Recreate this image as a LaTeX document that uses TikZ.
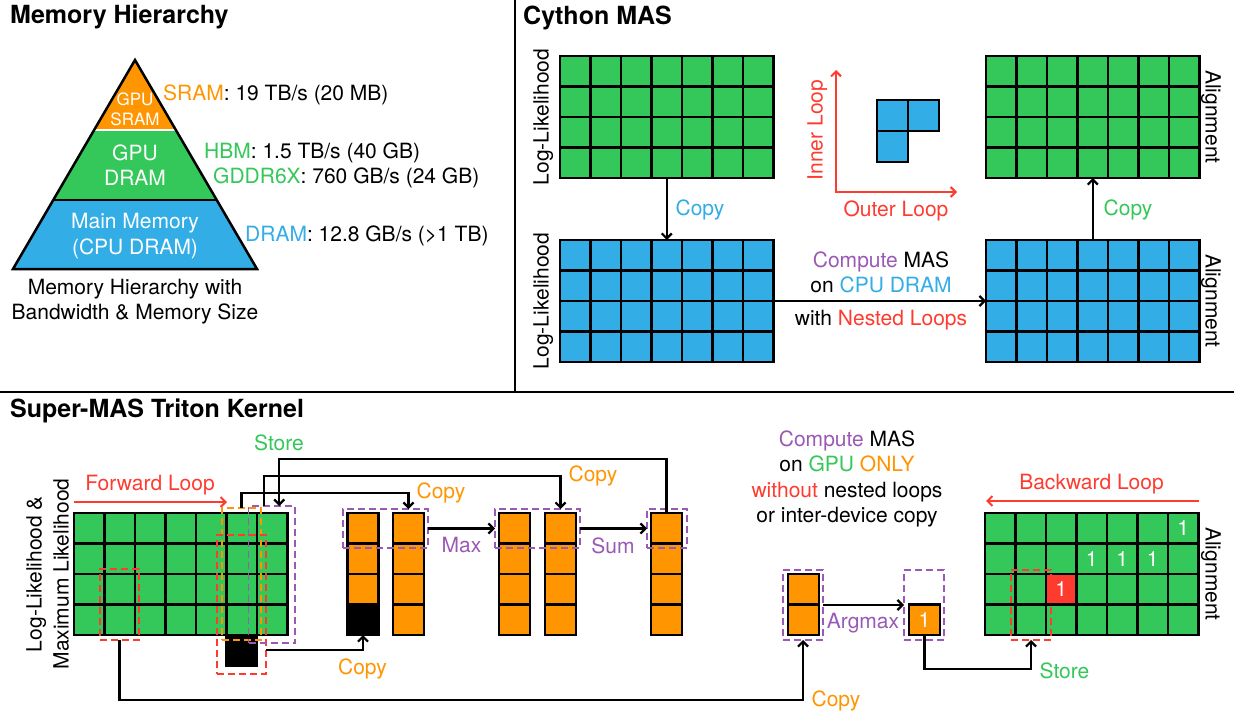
\documentclass[tikz,border=0pt]{standalone}
\usepackage{fontspec}
\setmainfont{TeX Gyre Heros}
\usetikzlibrary{arrows.meta}
\definecolor{cOrange}{RGB}{255,149,0}
\definecolor{cGreen}{RGB}{52,199,89}
\definecolor{cBlue}{RGB}{50,173,230}
\definecolor{cRed}{RGB}{255,59,48}
\definecolor{cPurple}{RGB}{155,89,182}
\newcommand\mygrid[6]{%
  \node[inner sep=0pt, outer sep=0pt, minimum width=#3*30.5pt, minimum height=#4*30.5pt, anchor=north west] (#6) at (#1,#2) {};
  \foreach \i in {1,...,#3}{\foreach \j in {1,...,#4}{\draw[cellst, fill=#5] ({#1+(\i-1)*30.5},{#2+(\j-1)*30.5}) rectangle ++(30.5,30.5);}}%
}
\newcommand\myvec[4]{%
  \node[inner sep=0pt, outer sep=0pt, minimum width=31pt, minimum height=#3*30.5pt, anchor=north west] (#4) at (#1,#2) {};
  \foreach \j in {1,...,#3}{\draw[cellst, fill=cOrange] (#1,{#2+(\j-1)*30.5}) rectangle ++(31,30.5);}%
}
\begin{document}
\begin{tikzpicture}[x=1pt,y=-1pt,
  font=\fontsize{21}{25}\selectfont,
  cellst/.style={draw=black, line width=2.7pt},
  arr/.style={draw=black, line width=2.2pt, -{Straight Barb[length=5pt,width=10pt]}},
  rarr/.style={draw=cRed, line width=2pt, -{Straight Barb[length=5pt,width=10pt]}},
  dbox/.style={inner sep=0pt, outer sep=0pt, line width=1.6pt, dash pattern=on 7pt off 4pt},
  lab/.style={inner sep=0pt, text height=15pt, text depth=0pt},
  slab/.style={inner sep=0pt, text height=12pt, text depth=0pt, font=\fontsize{17}{20}\selectfont},
  ttl/.style={font=\fontsize{25}{30}\selectfont\bfseries, inner sep=0pt, anchor=base west}]
\useasboundingbox (0,0) rectangle (1234,717);
\fill[white] (0,0) rectangle (1234,717);

% dividers
\draw[line width=2.5pt] (0,392) -- (1234,392);
\draw[line width=2pt] (515,0) -- (515,392);

% ---------- Memory Hierarchy ----------
\node[ttl] at (10,24) {Memory Hierarchy};
\fill[cOrange] (135,60) -- (94.14,130) -- (175.86,130) -- cycle;
\fill[cGreen] (94.14,130) -- (175.86,130) -- (216.72,200) -- (53.28,200) -- cycle;
\fill[cBlue] (53.28,200) -- (216.72,200) -- (257,269) -- (13,269) -- cycle;
\draw[white, line width=1.5pt] (94.14,130) -- (175.86,130);
\draw[line width=2.5pt] (53.28,200) -- (216.72,200);
\draw[line width=2.5pt, line join=miter] (135,60) -- (257,269) -- (13,269) -- cycle;
\node[slab, white] at (135,99.5) {GPU};
\node[slab, white] at (135,119) {SRAM};
\node[lab, white] at (135,152.5) {GPU};
\node[lab, white] at (135,178) {DRAM};
\node[lab, white] at (135,220.5) {Main Memory};
\node[lab, white] at (135,247) {(CPU DRAM)};
\node[lab, anchor=west] at (163,92.5) {\textcolor{cOrange}{SRAM}: 19 TB/s (20 MB)};
\node[lab, anchor=west] at (204,150.5) {\textcolor{cGreen}{HBM}: 1.5 TB/s (40 GB)};
\node[lab, anchor=west] at (213,176) {\textcolor{cGreen}{GDDR6X}: 760 GB/s (24 GB)};
\node[lab, anchor=west] at (245,233.5) {\textcolor{cBlue}{DRAM}: 12.8 GB/s (>1 TB)};
\node[lab] at (135,286.5) {Memory Hierarchy with};
\node[lab] at (135,311.5) {Bandwidth \& Memory Size};

% ---------- Cython MAS ----------
\node[ttl] at (523,25) {Cython MAS};
\mygrid{560}{56}{7}{4}{cGreen}{gTL}
\mygrid{560}{240}{7}{4}{cBlue}{gBL}
\mygrid{986}{56}{7}{4}{cGreen}{gTR}
\mygrid{986}{240}{7}{4}{cBlue}{gBR}
\node[lab, rotate=90] at (541,117) {Log-Likelihood};
\node[lab, rotate=90] at (541,301) {Log-Likelihood};
\node[lab, rotate=-90] at (1213,117) {Alignment};
\node[lab, rotate=-90] at (1213,301) {Alignment};
\draw[arr] (gTL.south) -- (gBL.north);
\draw[arr] (gBR.north) -- (gTR.south);
\draw[arr] (gBL.east) -- (gBR.west);
\node[lab, text=cBlue] at (700,207.5) {Copy};
\node[lab, text=cGreen] at (1128,207.5) {Copy};
\node[lab] at (881,260) {\textcolor{cPurple}{Compute} MAS};
\node[lab] at (881,285) {on \textcolor{cBlue}{CPU DRAM}};
\node[lab] at (881,317.5) {with \textcolor{cRed}{Nested Loops}};
% loop axes
\coordinate (ilTop) at (836,70);
\coordinate (ilCorner) at (836,192);
\coordinate (olEnd) at (957,192);
\draw[draw=cRed, line width=2pt, {Straight Barb[length=5pt,width=10pt]}-{Straight Barb[length=5pt,width=10pt]}] (ilTop) -- (ilCorner) -- (olEnd);
\node[lab, rotate=90, text=cRed] at (815,130) {Inner Loop};
\node[lab, text=cRed] at (896,209) {Outer Loop};
\draw[cellst, fill=cBlue] (877,100) rectangle ++(31,31);
\draw[cellst, fill=cBlue] (908,100) rectangle ++(31,31);
\draw[cellst, fill=cBlue] (877,131) rectangle ++(31,31);

% ---------- Super-MAS Triton Kernel ----------
\node[ttl] at (10,417) {Super-MAS Triton Kernel};
\mygrid{74}{513}{7}{4}{cGreen}{gF}
\draw[cellst, fill=black] (226.5,635) rectangle ++(30.5,30.5);
\node[lab, rotate=90] at (34,574) {Log-Likelihood \&};
\node[lab, rotate=90] at (61,574) {Maximum Likelihood};
\coordinate (fwS) at (74,502);
\coordinate (fwE) at (227,502);
\draw[rarr] (fwS) -- (fwE);
\node[lab, text=cRed] at (150,482.5) {Forward Loop};

% vectors
\myvec{347.5}{513}{4}{v1}
\draw[cellst, fill=black] (347.5,604.5) rectangle ++(31,30.5);
\myvec{393}{513}{4}{v2}
\myvec{499}{513}{4}{v3}
\myvec{545}{513}{4}{v4}
\myvec{651}{513}{4}{v5}
\myvec{788}{574}{2}{vArg}
\myvec{909}{604.5}{1}{res}
\node[lab, white] at (res.center) {1};

% backward grid
\mygrid{985}{513}{7}{4}{cGreen}{gB}
\draw[cellst, fill=cRed] (1046,574) rectangle ++(30.5,30.5);
\foreach \cx/\cy in {1183.25/528.25, 1091.75/558.75, 1122.25/558.75, 1152.75/558.75, 1061.25/589.25}
  \node[lab, white] at (\cx,\cy) {1};
\node[lab, rotate=-90] at (1213,574) {Alignment};
\coordinate (bwS) at (1199,501);
\coordinate (bwE) at (986,501);
\draw[rarr] (bwS) -- (bwE);
\node[lab, text=cRed] at (1091.5,482) {Backward Loop};

% dashed boxes
\node[dbox, draw=cRed, minimum width=39pt, minimum height=71pt] (rSmall) at (119.5,604.5) {};
\node[dbox, draw=cOrange, minimum width=39pt, minimum height=132pt] (oBox) at (241.5,574) {};
\node[dbox, draw=cRed, minimum width=49pt, minimum height=139pt] (rBig) at (241.5,604.5) {};
\node[dbox, draw=cPurple, minimum width=46.5pt, minimum height=137pt] (pBox) at (271.75,574.5) {};
\node[dbox, draw=cPurple, minimum width=85pt, minimum height=39pt] (pA) at (385.5,528.5) {};
\node[dbox, draw=cPurple, minimum width=85pt, minimum height=39pt] (pB) at (537.5,528.5) {};
\node[dbox, draw=cPurple, minimum width=40pt, minimum height=39pt] (pC) at (667,528.5) {};
\node[dbox, draw=cPurple, minimum width=40pt, minimum height=70pt] (pArg) at (803,605) {};
\node[dbox, draw=cPurple, minimum width=40pt, minimum height=70pt] (pRes) at (924,605) {};
\node[dbox, draw=cRed, minimum width=40pt, minimum height=70pt] (rDash) at (1031,605) {};

% connectors
\draw[arr] (oBox.north) -- ++(0,-15) -| (pA.north -| v2.north);
\draw[arr] ([xshift=-7.5pt]pBox.north) -- ++(0,-30) -| (pB.north -| v4.north);
\draw[arr] (v5.north) -- ++(0,-54) -| ([xshift=7.5pt]pBox.north);
\draw[arr] ([yshift=-45.5pt]rBig.east) -| (v1.south);
\draw[arr] (rSmall.south) -- ++(0,60) -| (pArg.south);
\draw[arr] (res.south) -- ++(0,34) -| (rDash.south);
\draw[arr] (pA.east) -- (pB.west);
\draw[arr] (pB.east) -- (pC.west);
\draw[arr] (pArg.east) -- (pRes.west);

% labels
\node[lab, text=cGreen] at (279,442.5) {Store};
\node[lab, text=cOrange] at (441,490.5) {Copy};
\node[lab, text=cOrange] at (593,474) {Copy};
\node[lab, text=cOrange] at (362.5,666.5) {Copy};
\node[lab, text=cOrange] at (836,698.5) {Copy};
\node[lab, text=cPurple] at (461.5,544.5) {Max};
\node[lab, text=cPurple] at (613,545.5) {Sum};
\node[lab, text=cPurple] at (863,620.5) {Argmax};
\node[lab, text=cGreen] at (1064.5,670.5) {Store};
\node[lab] at (847,439) {\textcolor{cPurple}{Compute} MAS};
\node[lab] at (847,464) {on \textcolor{cGreen}{GPU} \textcolor{cOrange}{ONLY}};
\node[lab] at (847,489.5) {\textcolor{cRed}{without} nested loops};
\node[lab] at (847,515) {or inter-device copy};
\end{tikzpicture}
\end{document}
